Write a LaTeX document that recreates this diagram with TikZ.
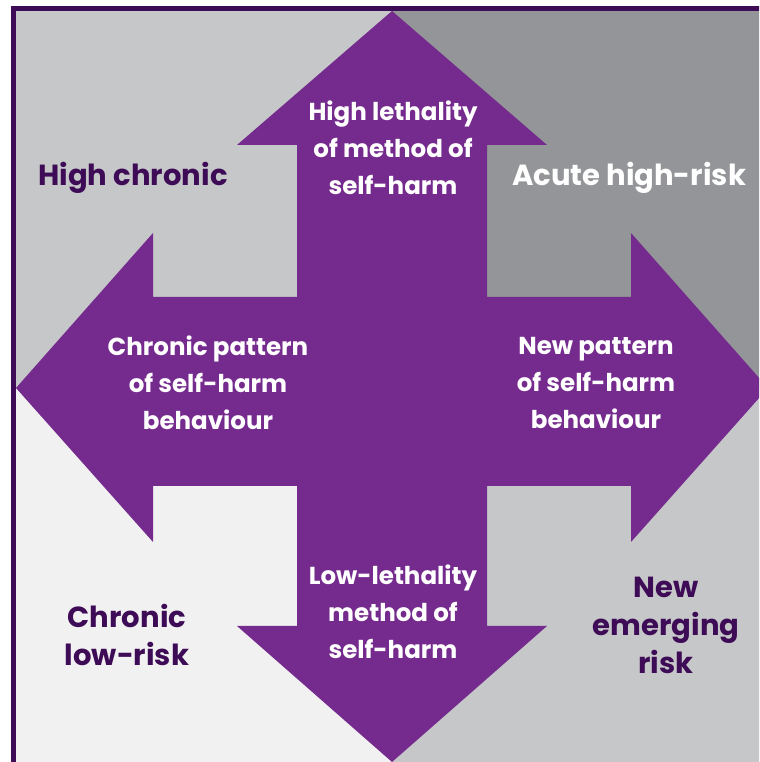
\documentclass[tikz,border=0pt]{standalone}
\usepackage{fontspec}
\setmainfont{Poppins}
\usepackage{xcolor}
\usetikzlibrary{positioning, calc}
\definecolor{riskpurple}{HTML}{752B8E}
\definecolor{framepurple}{HTML}{3E0B56}
\definecolor{greylight}{HTML}{C6C7C9}
\definecolor{greydark}{HTML}{939598}
\definecolor{greypale}{HTML}{F1F1F1}
\tikzset{
  arrowtext/.style={text=white, font=\bfseries\fontsize{18.4}{27.6}\selectfont, align=center},
  cornertext/.style={text=framepurple, font=\bfseries\fontsize{21.8}{28.5}\selectfont, align=center}
}
\begin{document}
\begin{tikzpicture}[x=0.75pt, y=0.75pt]
\useasboundingbox (0,0) rectangle (759,762);
\clip (0,0) rectangle (759,762);
% four risk quadrants
\fill[greylight] (16,374) rectangle (392,751);
\fill[greydark] (392,374) rectangle (775,751);
\fill[greypale] (16,-10) rectangle (392,374);
\fill[greylight] (392,-10) rectangle (775,374);
% four-way arrow
\fill[riskpurple] (392,751) -- (547,617) -- (487,617) -- (487,465) -- (631,465) -- (631,529)
  -- (768,374) -- (631,220) -- (631,276) -- (487,276) -- (487,136) -- (547,136)
  -- (392,0) -- (237,136) -- (297,136) -- (297,276) -- (153,276) -- (153,220)
  -- (16,374) -- (153,529) -- (153,465) -- (297,465) -- (297,617) -- (237,617) -- cycle;
\draw[framepurple, line width=3.75pt] (13.5,-10) -- (13.5,753.5) -- (775,753.5);
% labels
\node[arrowtext] (highleth) at (393,614) {High lethality\\of method of\\self-harm};
\node[arrowtext] (chronpat) at (208,379) {Chronic pattern\\of self-harm\\behaviour};
\node[arrowtext] (newpat) at (596,379) {New pattern\\of self-harm\\behaviour};
\node[arrowtext] (lowleth) at (393,150) {Low-lethality\\method of\\self-harm};
\node[cornertext] (highchron) at (133,584) {High chronic};
\node[cornertext, text=white] (acute) at (629,584) {Acute high-risk};
\node[cornertext] (chronlow) at (127,127) {Chronic\\low-risk};
\node[cornertext] (newemerg) at (666,137) {New\\emerging\\risk};
\end{tikzpicture}
\end{document}
